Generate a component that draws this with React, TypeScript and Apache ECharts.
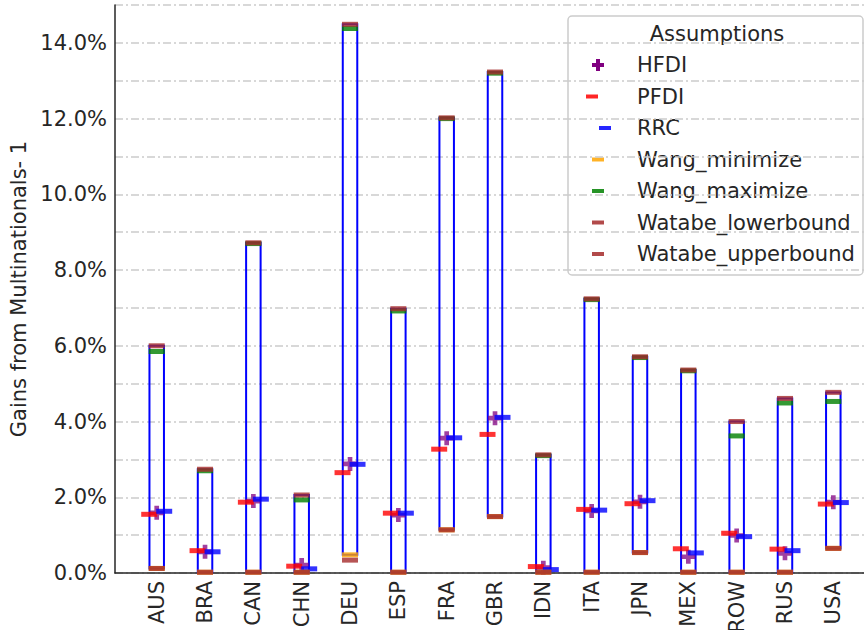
import React, { useEffect, useRef } from "react";
import * as echarts from "echarts";

const countries = ["AUS", "BRA", "CAN", "CHN", "DEU", "ESP", "FRA", "GBR", "IDN", "ITA", "JPN", "MEX", "ROW", "RUS", "USA"];
const hfdi = [1.59, 0.56, 1.9, 0.21, 2.88, 1.53, 3.56, 4.09, 0.14, 1.64, 1.88, 0.43, 0.99, 0.52, 1.87];
const pfdi = [1.55, 0.59, 1.87, 0.18, 2.65, 1.58, 3.27, 3.66, 0.17, 1.68, 1.83, 0.64, 1.05, 0.63, 1.82];
const rrc = [1.63, 0.56, 1.95, 0.11, 2.87, 1.58, 3.57, 4.11, 0.09, 1.66, 1.91, 0.53, 0.96, 0.59, 1.86];
const wangMin = [0.12, 0.02, 0.02, 0.02, 0.48, 0.02, 1.14, 1.49, 0.02, 0.02, 0.54, 0.02, 0.02, 0.02, 0.65];
const wangMax = [5.85, 2.7, 8.7, 1.93, 14.38, 6.92, 12.0, 13.2, 3.1, 7.22, 5.69, 5.34, 3.62, 4.49, 4.53];
const watabeLower = [0.12, 0.02, 0.02, 0.02, 0.34, 0.02, 1.14, 1.49, 0.02, 0.02, 0.54, 0.02, 0.02, 0.02, 0.65];
const watabeUpper = [6.0, 2.74, 8.72, 2.06, 14.49, 6.98, 12.02, 13.23, 3.12, 7.24, 5.71, 5.36, 4.0, 4.61, 4.77];
const yTicks = [0, 2, 4, 6, 8, 10, 12, 14];

const FONT = "DejaVu Sans";
const FS = 21;
const TXT = "#262626";

const COLORS = {
  HFDI: "#800080",
  PFDI: "#ff0000",
  RRC: "#0000ff",
  Wang_minimize: "#ffa500",
  Wang_maximize: "#008000",
  Watabe_lowerbound: "#a52a2a",
  Watabe_upperbound: "#a52a2a",
};

const PLUS = "path://M4,0h4v4h4v4h-4v4h-4v-4h-4v-4h4z";

export default function App() {
  const ref = useRef<HTMLDivElement>(null);
  useEffect(() => {
    if (!ref.current) return;
    const chart = echarts.init(ref.current, null, { renderer: "svg" });
    const pts = (arr: number[], off: number) => arr.map((v, i) => [i + off, v]);
    const barSeries = (name: string, arr: number[], off: number, w: number, h: number, z: number) => ({
      name,
      type: "scatter",
      data: pts(arr, off),
      symbol: "rect",
      symbolSize: [w, h],
      itemStyle: { color: (COLORS as any)[name], opacity: 0.8 },
      z,
      clip: true,
    });
    const legendNames = Object.keys(COLORS);
    const legendY = [65, 96.5, 128, 159.5, 191, 222.5, 254];
    const legendIconX = [598, 592, 605, 598, 598, 598, 598];
    const legendEls: any[] = [
      {
        type: "rect",
        shape: { x: 568, y: 16, width: 295, height: 259, r: 4 },
        style: { fill: "rgba(255,255,255,0.85)", stroke: "#cccccc", lineWidth: 1.5 },
      },
      {
        type: "text",
        x: 717,
        y: 34,
        style: { text: "Assumptions", font: `${FS}px '${FONT}'`, fill: TXT, align: "center", verticalAlign: "middle" },
      },
    ];
    legendNames.forEach((n, i) => {
      const cx = legendIconX[i];
      const cy = legendY[i];
      if (n === "HFDI") {
        legendEls.push({
          type: "polygon",
          shape: {
            points: [
              [cx - 2, cy - 6], [cx + 2, cy - 6], [cx + 2, cy - 2], [cx + 6, cy - 2],
              [cx + 6, cy + 2], [cx + 2, cy + 2], [cx + 2, cy + 6], [cx - 2, cy + 6],
              [cx - 2, cy + 2], [cx - 6, cy + 2], [cx - 6, cy - 2], [cx - 2, cy - 2],
            ],
          },
          style: { fill: (COLORS as any)[n] },
        });
      } else {
        legendEls.push({
          type: "rect",
          shape: { x: cx - 6, y: cy - 2, width: 12, height: 4 },
          style: { fill: (COLORS as any)[n], opacity: 0.85 },
        });
      }
      legendEls.push({
        type: "text",
        x: 637,
        y: cy,
        style: { text: n, font: `${FS}px '${FONT}'`, fill: TXT, align: "left", verticalAlign: "middle" },
      });
    });

    chart.setOption({
      animation: false,
      grid: { left: 115, top: 5, right: 0, bottom: 57, containLabel: false, outerBoundsMode: "none" },
      xAxis: {
        type: "value",
        min: -0.863,
        max: 14.635,
        splitLine: { show: false },
        axisTick: { show: false },
        axisLine: { show: true, onZero: false, lineStyle: { color: TXT, width: 1.5 } },
        axisLabel: {
          customValues: countries.map((_, i) => i),
          formatter: (v: number) => countries[Math.round(v)] ?? "",
          rotate: 90,
          margin: 8,
          color: TXT,
          fontFamily: FONT,
          fontSize: FS,
        },
      },
      yAxis: {
        type: "value",
        min: 0,
        max: 15,
        interval: 1,
        name: "Gains from Multinationals- 1",
        nameLocation: "middle",
        nameGap: 86,
        nameTextStyle: { color: TXT, fontFamily: FONT, fontSize: FS },
        axisLine: { show: true, onZero: false, lineStyle: { color: TXT, width: 1.5 } },
        axisTick: { show: false },
        axisLabel: {
          customValues: yTicks,
          formatter: (v: number) => v.toFixed(1) + "%",
          margin: 8,
          color: TXT,
          fontFamily: FONT,
          fontSize: FS,
        },
        splitLine: {
          show: true,
          lineStyle: { color: "#cccccc", width: 1.5, type: [8, 3, 2, 3] },
        },
      },
      series: [
        {
          name: "box",
          type: "custom",
          data: countries.map((_, i) => [i, wangMin[i], watabeUpper[i]]),
          renderItem: (params: any, api: any) => {
            const x = api.value(0);
            const lo = api.value(1);
            const hi = api.value(2);
            const p1 = api.coord([x, hi]);
            const p2 = api.coord([x, lo]);
            const hw = api.size([0.15, 0])[0];
            return {
              type: "rect",
              shape: { x: p1[0] - hw, y: p1[1], width: 2 * hw, height: p2[1] - p1[1] },
              style: { fill: "none", stroke: "#0000ff", lineWidth: 2 },
            };
          },
          z: 2,
        },
        {
          name: "HFDI",
          type: "scatter",
          data: pts(hfdi, 0),
          symbol: PLUS,
          symbolSize: 14,
          itemStyle: { color: COLORS.HFDI, opacity: 0.75 },
          z: 3,
        },
        barSeries("PFDI", pfdi, -0.155, 16, 5, 4),
        barSeries("RRC", rrc, 0.155, 16, 5, 5),
        barSeries("Wang_minimize", wangMin, 0, 16, 5, 6),
        barSeries("Wang_maximize", wangMax, 0, 16, 5, 7),
        barSeries("Watabe_lowerbound", watabeLower, 0, 16, 5, 8),
        barSeries("Watabe_upperbound", watabeUpper, 0, 16, 5, 9),
      ],
      graphic: { elements: [{ type: "group", z: 100, children: legendEls }] },
    });
    return () => chart.dispose();
  }, []);
  return <div ref={ref} style={{ width: 864, height: 630, position: "absolute", left: 0, top: 0 }} />;
}
